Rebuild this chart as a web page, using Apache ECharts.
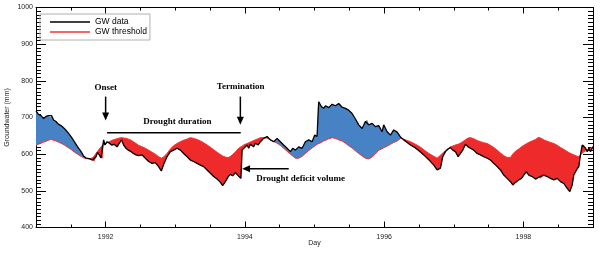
<!DOCTYPE html>
<html>
<head>
<meta charset="utf-8">
<script src="https://cdn.jsdelivr.net/npm/echarts@6/dist/echarts.min.js"></script>
<style>html,body{margin:0;padding:0;background:#fff}#c{width:600px;height:255px}</style>
</head>
<body>
<div id="c"></div>
<script>
// decimal years
const years = [1991.000,1991.033,1991.072,1991.109,1991.144,1991.177,1991.205,1991.224,1991.253,1991.287,
1991.320,1991.359,1991.407,1991.454,1991.503,1991.550,1991.598,1991.647,1991.684,1991.723,
1991.766,1991.813,1991.838,1991.862,1991.885,1991.909,1991.934,1991.957,1991.971,1991.991,
1992.020,1992.053,1992.086,1992.125,1992.164,1992.197,1992.230,1992.259,1992.293,1992.326,
1992.365,1992.398,1992.437,1992.474,1992.523,1992.570,1992.618,1992.667,1992.714,1992.761,
1992.800,1992.833,1992.882,1992.930,1992.977,1993.026,1993.073,1993.121,1993.170,1993.217,
1993.264,1993.313,1993.361,1993.408,1993.457,1993.504,1993.552,1993.601,1993.648,1993.681,
1993.720,1993.759,1993.792,1993.825,1993.864,1993.911,1993.943,1993.960,1993.983,1994.032,
1994.055,1994.079,1994.126,1994.151,1994.190,1994.223,1994.270,1994.319,1994.366,1994.414,
1994.463,1994.510,1994.557,1994.606,1994.654,1994.687,1994.726,1994.773,1994.822,1994.869,
1994.917,1994.966,1995.003,1995.037,1995.060,1995.099,1995.132,1995.157,1995.204,1995.253,
1995.300,1995.348,1995.397,1995.444,1995.491,1995.540,1995.588,1995.635,1995.684,1995.731,
1995.756,1995.779,1995.828,1995.875,1995.922,1995.971,1995.994,1996.043,1996.091,1996.138,
1996.187,1996.234,1996.282,1996.331,1996.378,1996.450,1996.522,1996.569,1996.641,1996.713,
1996.761,1996.809,1996.842,1996.881,1996.920,1996.953,1996.986,1997.025,1997.063,1997.096,
1997.129,1997.168,1997.207,1997.240,1997.287,1997.336,1997.384,1997.431,1997.480,1997.527,
1997.575,1997.624,1997.671,1997.718,1997.767,1997.815,1997.848,1997.887,1997.934,1997.973,
1998.006,1998.040,1998.078,1998.126,1998.174,1998.221,1998.246,1998.293,1998.342,1998.390,
1998.437,1998.486,1998.533,1998.581,1998.629,1998.667,1998.701,1998.724,1998.763,1998.796,
1998.820,1998.845,1998.868,1998.893,1998.917,1998.940,1998.964,1998.989,1999.000];

// groundwater data (mm)
const gwData = [718,709,705,697,703,705,700,705,693,689,
682,678,670,660,648,634,620,607,595,589,
588,584,580,593,605,598,590,589,639,625,
634,630,625,627,620,630,639,625,616,611,
607,602,598,596,598,589,580,575,577,566,
554,572,593,607,611,616,611,602,593,584,
580,575,570,566,557,548,539,532,523,514,
525,538,545,541,550,540,534,611,616,625,
616,627,620,630,625,634,643,648,639,634,
643,634,625,616,607,616,611,620,616,634,
639,634,652,648,743,730,725,732,727,736,
732,738,728,725,720,711,696,680,670,689,
693,680,684,675,678,661,680,661,652,666,
660,647,639,632,625,617,606,598,585,570,
557,562,593,607,614,618,611,607,593,602,
611,627,620,616,611,602,598,593,589,584,
575,566,557,543,534,525,516,523,530,534,
543,552,543,539,532,537,534,543,539,534,
530,534,525,520,507,498,516,543,557,566,
598,625,625,616,607,616,607,616,620];

// groundwater threshold (mm)
const gwThreshold = [624,627,630,633,635,638,641,640,638,636,
633,630,625,619,613,606,600,594,590,588,
587,590,596,602,607,614,619,625,626,628,
631,634,637,640,642,644,645,644,643,641,
638,634,629,624,620,616,611,605,600,593,
589,592,602,614,623,629,634,638,641,645,
643,640,636,631,625,619,612,605,599,595,
592,590,594,599,606,616,620,621,625,629,
631,633,637,639,642,645,645,644,639,635,
630,624,616,608,600,595,589,589,594,602,
610,617,622,627,629,632,636,638,642,645,
643,639,636,630,623,617,609,602,595,589,
588,587,592,601,611,615,618,622,627,632,
636,643,641,637,634,627,619,612,602,594,
589,597,603,610,615,620,622,625,627,630,
634,639,644,645,642,637,634,631,629,624,
618,611,603,596,591,591,600,608,614,620,
624,628,632,636,640,646,644,639,635,632,
629,624,618,613,607,603,600,598,595,593,
598,603,607,609,611,614,617,619,620];

const yearLabels = [1992, 1994, 1996, 1998];

const FONT = '"Liberation Sans", Arial, sans-serif';
const SERIF = '"Liberation Serif", "Times New Roman", serif';
const BLUE = '#4682c4';
const RED = '#ee2a2a';

const seriesLine = years.map((y, i) => [y, gwData[i]]);
const thrLine = years.map((y, i) => [y, gwThreshold[i]]);

const chart = echarts.init(document.getElementById('c'), null, {renderer: 'canvas'});

function xAx(extra) {
  return Object.assign({
    type: 'value', min: 1991, max: 1999, interval: 0.5,
    splitLine: {show: false},
    axisLine: {show: true, lineStyle: {color: '#000', width: 1}},
    axisTick: {show: true, inside: true, length: 3, lineStyle: {color: '#000'}},
    axisLabel: {show: false}
  }, extra);
}
function yAx(extra) {
  return Object.assign({
    type: 'value', min: 400, max: 1000, interval: 100,
    splitLine: {show: false},
    axisLine: {show: true, lineStyle: {color: '#000', width: 1}},
    axisTick: {show: true, inside: true, length: 10, lineStyle: {color: '#000'}},
    minorTick: {show: true, splitNumber: 10, length: 5, lineStyle: {color: '#000'}},
    axisLabel: {show: false}
  }, extra);
}

function renderFill(params, api) {
  const c = (a, b) => api.coord([a, b]);
  const sg = v => (v > 0 ? 1 : (v < 0 ? -1 : 0));
  const children = [];
  const push = (up, lo, s) => {
    const pts = up.concat(lo.slice().reverse());
    const col = s >= 0 ? BLUE : RED;
    children.push({type: 'polygon', shape: {points: pts}, style: {fill: col, stroke: col, lineWidth: 0.3}});
  };
  let s = sg(gwData[0] - gwThreshold[0]);
  let up = [c(years[0], gwData[0])], lo = [c(years[0], gwThreshold[0])];
  for (let i = 0; i < years.length - 1; i++) {
    const e0 = gwData[i] - gwThreshold[i], e1 = gwData[i + 1] - gwThreshold[i + 1];
    if (e0 * e1 < 0) {
      const f = e0 / (e0 - e1);
      const xm = years[i] + f * (years[i + 1] - years[i]);
      const ym = gwData[i] + f * (gwData[i + 1] - gwData[i]);
      const m = c(xm, ym);
      up.push(m);
      push(up, lo, s);
      up = [m]; lo = [m];
      s = sg(e1);
    }
    up.push(c(years[i + 1], gwData[i + 1]));
    lo.push(c(years[i + 1], gwThreshold[i + 1]));
    if (s === 0) s = sg(e1);
  }
  push(up, lo, s);
  return {type: 'group', children: children};
}

chart.setOption({
  animation: false,
  grid: {left: 36, right: 7, top: 7.5, bottom: 27.5, containLabel: false, outerBoundsMode: 'none'},
  legend: {
    data: [
      {name: 'GW data', icon: 'rect', itemStyle: {color: '#000'}},
      {name: 'GW threshold', icon: 'rect', itemStyle: {color: '#f03535'}}
    ],
    orient: 'vertical', left: 40, top: 14,
    itemWidth: 40, itemHeight: 1.5, itemGap: 0,
    padding: [3, 3, 3, 10],
    borderColor: '#b0b0b0', borderWidth: 1,
    textStyle: {fontSize: 8.5, lineHeight: 10, fontFamily: FONT, color: '#000'},
    selectedMode: false
  },
  xAxis: [
    xAx({position: 'bottom',
      axisLabel: {show: true, fontSize: 7, fontFamily: FONT, color: '#222', margin: 6,
        formatter: v => (yearLabels.indexOf(Math.round(v * 100) / 100) >= 0 ? String(Math.round(v)) : '')},
      name: 'Day', nameLocation: 'middle', nameGap: 12, nameMoveOverlap: false,
      nameTextStyle: {fontSize: 7, fontFamily: FONT, color: '#222'}}),
    xAx({position: 'bottom', axisLine: {show: false},
      axisTick: {show: true, inside: true, length: 6, customValues: yearLabels, lineStyle: {color: '#000'}}}),
    xAx({position: 'top'}),
    xAx({position: 'top', axisLine: {show: false},
      axisTick: {show: true, inside: true, length: 6, customValues: yearLabels, lineStyle: {color: '#000'}}})
  ],
  yAxis: [
    yAx({position: 'left',
      axisLabel: {show: true, fontSize: 7, fontFamily: FONT, color: '#222', margin: 3, formatter: v => String(v)},
      name: 'Groundwater (mm)', nameLocation: 'middle', nameGap: 25, nameMoveOverlap: false,
      nameTextStyle: {fontSize: 7, fontFamily: FONT, color: '#222'}}),
    yAx({position: 'right'})
  ],
  series: [
    {
      type: 'custom', name: 'fill', xAxisIndex: 0, yAxisIndex: 0, clip: true,
      data: [[years[0], gwThreshold[0]]],
      renderItem: renderFill,
      silent: true, z: 1
    },
    {
      type: 'line', name: 'GW threshold', data: thrLine, showSymbol: false, symbol: 'none',
      lineStyle: {color: '#f03535', width: 1}, itemStyle: {color: '#f03535'}, z: 2, silent: true
    },
    {
      type: 'line', name: 'GW data', data: seriesLine, showSymbol: false, symbol: 'none',
      lineStyle: {color: '#000', width: 1.3}, itemStyle: {color: '#000'}, z: 3, silent: true
    }
  ]
});

function P(x, y) { return chart.convertToPixel({xAxisIndex: 0, yAxisIndex: 0}, [x, y]); }
function arrow(a, b) {
  const p1 = P(a[0], a[1]), p2 = P(b[0], b[1]);
  const dx = p2[0] - p1[0], dy = p2[1] - p1[1];
  const L = Math.sqrt(dx * dx + dy * dy), ux = dx / L, uy = dy / L;
  const hl = 8, hw = 3.5;
  const bx = p2[0] - ux * hl, by = p2[1] - uy * hl;
  return [
    {type: 'line', shape: {x1: p1[0], y1: p1[1], x2: bx + ux, y2: by + uy},
      style: {stroke: '#000', lineWidth: 1.5}, z: 10},
    {type: 'polygon', shape: {points: [[p2[0], p2[1]], [bx - uy * hw, by + ux * hw], [bx + uy * hw, by - ux * hw]]},
      style: {fill: '#000'}, z: 10}
  ];
}
function label(txt, x, y) {
  const p = P(x, y);
  return {type: 'text', z: 10, style: {text: txt, x: p[0], y: p[1], align: 'center', verticalAlign: 'middle',
    font: 'bold 9px ' + SERIF, fill: '#000'}};
}
const d1 = P(1992.02, 658.5), d2 = P(1993.94, 658.5);
chart.setOption({
  graphic: [].concat(
    [label('Onset', 1992.0, 780)],
    arrow([1992.0, 757], [1992.0, 692]),
    [label('Termination', 1993.94, 783)],
    arrow([1993.935, 757], [1993.935, 680]),
    [label('Drought duration', 1993.03, 689)],
    [{type: 'line', z: 10, shape: {x1: d1[0], y1: d1[1], x2: d2[0], y2: d2[1]}, style: {stroke: '#000', lineWidth: 1.5}}],
    arrow([1994.63, 560], [1993.96, 560]),
    [label('Drought deficit volume', 1994.80, 532)]
  )
});
</script>
</body>
</html>
